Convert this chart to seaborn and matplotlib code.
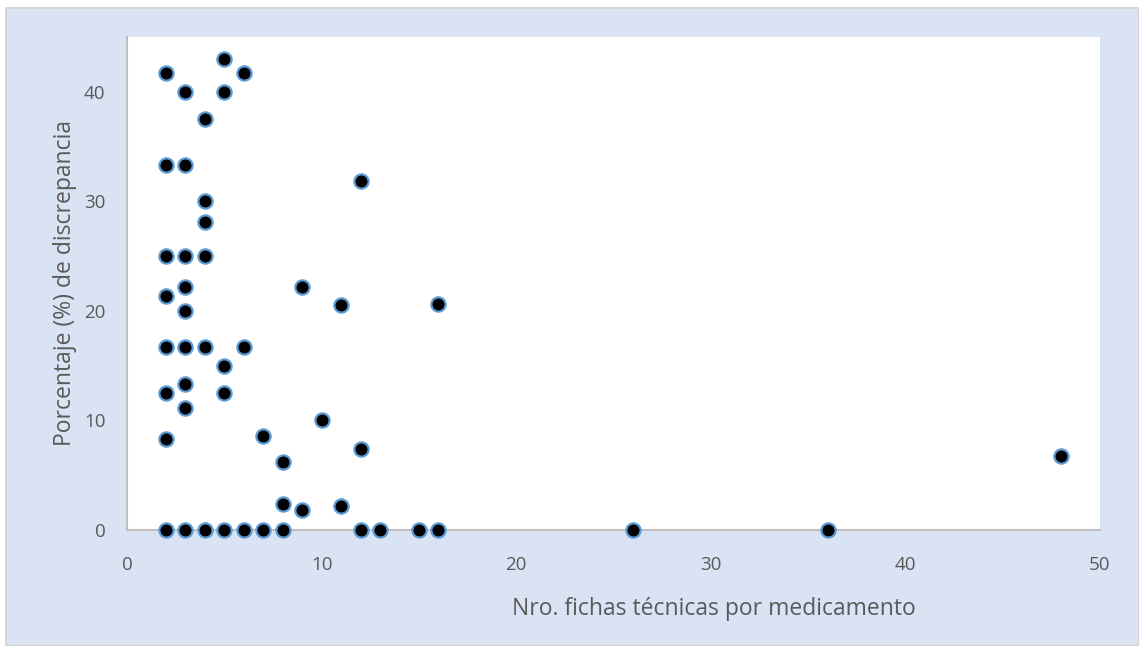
import matplotlib
matplotlib.use("Agg")
import matplotlib.pyplot as plt
from matplotlib.patches import Rectangle
import seaborn as sns
import pandas as pd

# Number of technical sheets per drug and discrepancy percentage
fichas = [2, 5, 6, 3, 5, 4, 2, 3, 12, 4, 4, 2, 3, 4,
          9, 3, 2, 11, 16, 3, 2, 3, 4, 6, 5, 3, 2, 5,
          3, 10, 2, 7, 12, 48, 8, 8, 9, 11,
          2, 3, 4, 5, 6, 7, 8, 12, 13, 15, 16, 26, 36]
discrepancia = [41.7, 43.0, 41.7, 40.0, 40.0, 37.5, 33.3, 33.3, 31.9, 30.0, 28.1, 25.0, 25.0, 25.0,
                22.2, 22.2, 21.4, 20.5, 20.6, 20.0, 16.7, 16.7, 16.7, 16.7, 15.0, 13.3, 12.5, 12.5,
                11.1, 10.0, 8.3, 8.6, 7.4, 6.8, 6.2, 2.4, 1.8, 2.2,
                0, 0, 0, 0, 0, 0, 0, 0, 0, 0, 0, 0, 0]

x_ticks = [0, 10, 20, 30, 40, 50]
y_ticks = [0, 10, 20, 30, 40]

df = pd.DataFrame({"fichas": fichas, "discrepancia": discrepancia})

sns.set_theme(style="white")
plt.rcParams["font.family"] = ["Open Sans", "DejaVu Sans"]

bg = "#DAE3F3"
txt = "#595959"

fig = plt.figure(figsize=(11.39, 6.46), dpi=100, facecolor="white")
# chart frame behind the axes
frame = Rectangle((6 / 1139, 0), 1 - 6 / 1139, 1 - 8 / 646,
                  transform=fig.transFigure, facecolor=bg,
                  edgecolor="#D0D0D0", linewidth=1.2, zorder=-10)
fig.patches.append(frame)

ax = fig.add_axes([127 / 1139, 1 - 530 / 646, (1100 - 127) / 1139, (530 - 37) / 646])
ax.set_zorder(5)
ax.set_facecolor("white")

sns.scatterplot(data=df, x="fichas", y="discrepancia", ax=ax,
                color="black", edgecolor="#5B9BD5", linewidth=1.6,
                s=105, zorder=3, clip_on=False)

ax.set_xlim(0, 50)
ax.set_ylim(0, 45)
ax.set_xticks(x_ticks)
ax.set_yticks(y_ticks)
ax.tick_params(axis="both", length=0, labelsize=13.5, colors=txt)
ax.tick_params(axis="x", pad=19)
ax.tick_params(axis="y", pad=15.5)

for side in ["top", "right"]:
    ax.spines[side].set_visible(False)
for side in ["left", "bottom"]:
    ax.spines[side].set_color("#BFBFBF")
    ax.spines[side].set_linewidth(1.5)

ax.set_xlabel("Nro. fichas técnicas por medicamento", fontsize=16.5, color=txt, labelpad=16)
ax.set_ylabel("Porcentaje (%) de discrepancia", fontsize=16.5, color=txt, labelpad=5)
# x title sits to the right of the axis centre
ax.xaxis.label.set_x(0.603)

fig.savefig("out.png", dpi=100, facecolor="white")
